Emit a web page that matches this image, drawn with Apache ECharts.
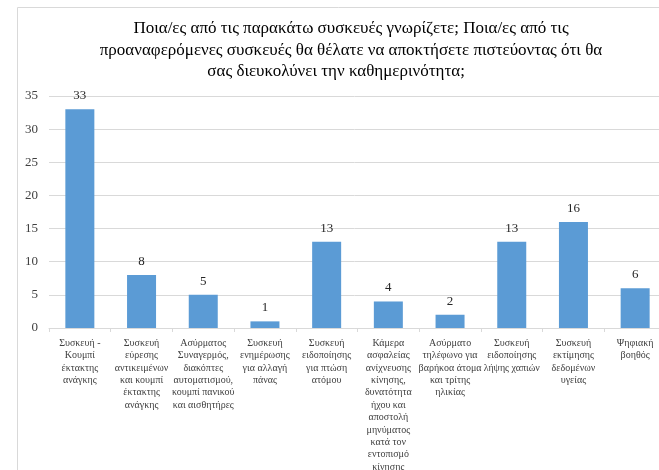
<!DOCTYPE html>
<html>
<head>
<meta charset="utf-8">
<script src="https://cdn.jsdelivr.net/npm/echarts@6/dist/echarts.min.js"></script>
<style>
    html, body { margin: 0; padding: 0; background: #ffffff; }
    #main { width: 659px; height: 470px; }
</style>
</head>
<body>
<div id="main"></div>
<script>
// κατηγορίες συσκευών (όπως είναι σπασμένες σε γραμμές στο γράφημα)
var categories = [
    'Συσκευή -\nΚουμπί\nέκτακτης\nανάγκης',
    'Συσκευή\nεύρεσης\nαντικειμένων\nκαι κουμπί\nέκτακτης\nανάγκης',
    'Ασύρματος\nΣυναγερμός,\nδιακόπτες\nαυτοματισμού,\nκουμπί πανικού\nκαι αισθητήρες',
    'Συσκευή\nενημέρωσης\nγια αλλαγή\nπάνας',
    'Συσκευή\nειδοποίησης\nγια πτώση\nατόμου',
    'Κάμερα\nασφαλείας\nανίχνευσης\nκίνησης,\nδυνατότητα\nήχου και\nαποστολή\nμηνύματος\nκατά τον\nεντοπισμό\nκίνησης',
    'Ασύρματο\nτηλέφωνο για\nβαρήκοα άτομα\nκαι τρίτης\nηλικίας',
    'Συσκευή\nειδοποίησης\nλήψης χαπιών',
    'Συσκευή\nεκτίμησης\nδεδομένων\nυγείας',
    'Ψηφιακή\nβοηθός'
];
var values = [33, 8, 5, 1, 13, 4, 2, 13, 16, 6];
var titleLines = [
    'Ποια/ες από τις παρακάτω συσκευές γνωρίζετε; Ποια/ες από τις',
    'προαναφερόμενες συσκευές θα θέλατε να αποκτήσετε πιστεύοντας ότι θα',
    'σας διευκολύνει την καθημερινότητα;'
];

var myChart = echarts.init(document.getElementById('main'));

var option = {
    animation: false,
    textStyle: { fontFamily: 'Liberation Serif' },
    title: {
        // η τελευταία γραμμή στο πρωτότυπο είναι λίγο πιο αριστερά
        text: titleLines[0] + '\n' + titleLines[1] + '\n' + titleLines[2] + '\u00a0\u00a0\u00a0\u00a0\u00a0\u00a0\u00a0',
        left: 346,
        textAlign: 'center',
        top: 13,
        textStyle: {
            fontFamily: 'Liberation Serif',
            fontSize: 17,
            fontWeight: 'normal',
            color: '#000',
            lineHeight: 21.5
        }
    },
    // πλαίσιο γύρω από το γράφημα
    graphic: [{
        type: 'rect',
        silent: true,
        shape: { x: 17.5, y: 7.5, width: 700, height: 500 },
        style: { fill: 'none', stroke: '#d9d9d9', lineWidth: 1 }
    }],
    grid: {
        top: 96,
        bottom: 142,
        left: 49,
        right: -7,
        outerBoundsMode: 'none'
    },
    xAxis: {
        type: 'category',
        data: categories,
        axisLine: { lineStyle: { color: '#d9d9d9' } },
        axisTick: { show: true, length: 4, lineStyle: { color: '#d9d9d9' } },
        axisLabel: {
            interval: 0,
            fontFamily: 'Liberation Serif',
            fontSize: 10,
            lineHeight: 12.4,
            color: '#404040',
            margin: 9
        }
    },
    yAxis: {
        type: 'value',
        min: 0,
        max: 35,
        interval: 5,
        axisLine: { show: false },
        axisTick: { show: false },
        splitLine: { lineStyle: { color: '#d9d9d9' } },
        axisLabel: {
            fontFamily: 'Liberation Serif',
            fontSize: 13,
            color: '#404040',
            margin: 11
        }
    },
    series: [{
        type: 'bar',
        data: values,
        barWidth: '47%',
        itemStyle: { color: '#5b9bd5' },
        label: {
            show: true,
            position: 'top',
            distance: 7,
            fontFamily: 'Liberation Serif',
            fontSize: 13,
            color: '#262626'
        }
    }]
};

myChart.setOption(option);
</script>
</body>
</html>
